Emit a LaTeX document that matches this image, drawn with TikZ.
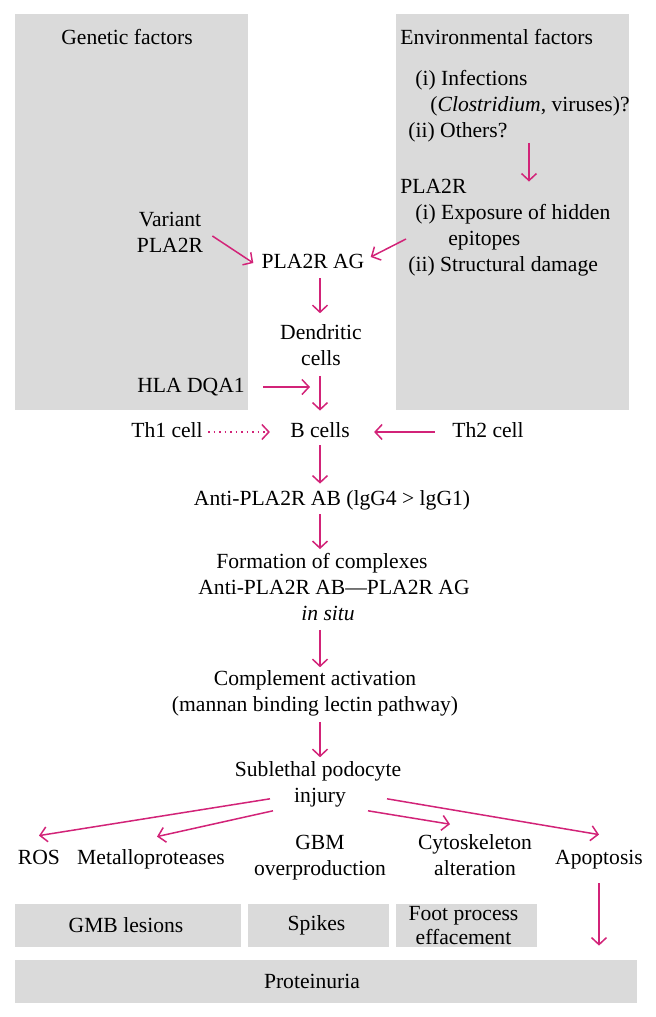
\documentclass[tikz,border=0pt]{standalone}
\usepackage{fontspec}
\setmainfont{Liberation Serif}
\usetikzlibrary{arrows.meta,calc}
\definecolor{pinkarr}{RGB}{210,35,120}
\definecolor{boxgray}{RGB}{218,218,218}
\begin{document}
\begin{tikzpicture}[x=0.5pt,y=-0.5pt,
  every node/.style={font=\fontsize{10.8pt}{13pt}\selectfont},
  txt/.style={inner sep=0pt, align=center, execute at begin node=\strut, execute at end node=\strut},
  ltxt/.style={inner sep=0pt, align=left, anchor=west, execute at begin node=\strut, execute at end node=\strut},
  gbox/.style={fill=boxgray, inner sep=0pt, minimum height=21.5pt, align=center},
  arr/.style={draw=pinkarr, line width=0.75pt, -{Straight Barb[length=3.5pt,width=7.5pt,line width=0.75pt]}},
  dotarr/.style={arr, dotted}]
\useasboundingbox (0,0) rectangle (656,1017);
% panels
\fill[boxgray] (15,14) rectangle (248,410);
\fill[boxgray] (396,14) rectangle (629,410);
\coordinate (spine) at (320,0);
\coordinate (envx) at (529,0);
% texts
\node[txt] (gen) at (127,39) {Genetic factors};
\node[ltxt] (envh) at (400,39) {Environmental factors};
\node[ltxt] (inf) at (400,108) {\hspace*{7.5pt}(i) Infections\\\hspace*{15pt}(\textit{Clostridium}, viruses)?\\\hspace*{4pt}(ii) Others?};
\node[ltxt] (plab) at (400,229) {PLA2R\\\hspace*{7.5pt}(i) Exposure of hidden\\\hspace*{24pt}epitopes\\\hspace*{4pt}(ii) Structural damage};
\node[txt] (var) at (170,236) {Variant\\PLA2R};
\node[txt] (plaag) at (313,263) {PLA2R AG};
\node[txt] (den) at (321,349) {Dendritic\\cells};
\node[txt] (hla) at (191,387) {HLA DQA1};
\coordinate (hlaend) at (310,387);
\node[txt] (th1) at (167,432) {Th1 cell};
\node[txt] (bc) at (320,432) {B cells};
\node[txt] (th2) at (488,432) {Th2 cell};
\node[txt] (anti) at (332,500) {Anti-PLA2R AB (lgG4 > lgG1)};
\node[txt] (form) at (322,591) {Formation of complexes\\\hspace*{12pt}Anti-PLA2R AB—PLA2R AG\\\hspace*{6pt}\textit{in situ}};
\node[txt] (comp) at (315,695) {Complement activation\\(mannan binding lectin pathway)};
\node[txt] (sub) at (318,786) {Sublethal podocyte\\\hspace*{2pt}injury};
\node[txt] (ros) at (39,859) {ROS};
\node[txt] (met) at (151,859) {Metalloproteases};
\node[txt] (gbm) at (320,859) {GBM\\overproduction};
\node[txt] (cyto) at (475,859) {Cytoskeleton\\alteration};
\node[txt] (apop) at (599,859) {Apoptosis};
\node[gbox, minimum width=113pt] (gmb) at (128,925.5) {\hspace*{-2pt}GMB lesions};
\node[gbox, minimum width=70.5pt] (spk) at (318.5,925.5) {\hspace*{-2pt}Spikes};
\node[gbox, minimum width=70.5pt, font=\fontsize{10.8pt}{12pt}\selectfont] (foot) at (466.5,925.5) {\hspace*{-3pt}Foot process\\\hspace*{-3pt}effacement};
\node[gbox, minimum width=311pt] (prot) at (326,981.5) {\hspace*{-14pt}Proteinuria};
% connectors
\draw[arr] ($(inf.south -| envx)+(0,-3)$) -- ($(plab.north -| envx)+(0,3)$);
\draw[arr] ($(var.east)+(9,0)$) -- ($(plaag.west)+(-8,0)$);
\draw[arr] ($(plab.west)+(6,10)$) -- ($(plaag.east)+(6,-6)$);
\draw[arr] ($(plaag.south -| spine)+(0,2)$) -- ($(den.north -| spine)+(0,-11)$);
\draw[arr] ($(den.south -| spine)+(0,2)$) -- ($(bc.north -| spine)+(0,-8)$);
\draw[arr] ($(hla.east)+(18,0)$) -- (hlaend);
\draw[dotarr] ($(th1.east)+(5,0)$) -- ($(bc.west)+(-20,0)$);
\draw[arr] ($(th2.west)+(-17,0)$) -- ($(bc.east)+(24,0)$);
\draw[arr] ($(bc.south -| spine)+(0,0)$) -- ($(anti.north -| spine)+(0,-3)$);
\draw[arr] ($(anti.south -| spine)+(0,1)$) -- ($(form.north -| spine)+(0,-4)$);
\draw[arr] ($(form.south -| spine)+(0,1)$) -- ($(comp.north -| spine)+(0,-3)$);
\draw[arr] ($(comp.south -| spine)+(0,2)$) -- ($(sub.north -| spine)+(0,-4)$);
\draw[arr] ($(sub.south)+(-48,-12)$) -- ($(ros.north)+(0,-10)$);
\draw[arr] ($(sub.south)+(-45,0)$) -- ($(met.north)+(6,-9)$);
\draw[arr] ($(sub.south)+(50,0)$) -- ($(cyto.north)+(-25,-10)$);
\draw[arr] ($(sub.south)+(69,-12)$) -- ($(apop.north)+(0,-11)$);
\draw[arr] ($(apop.south)+(0,11)$) -- ($(apop.south |- prot.north)+(0,-14)$);
\end{tikzpicture}
\end{document}
